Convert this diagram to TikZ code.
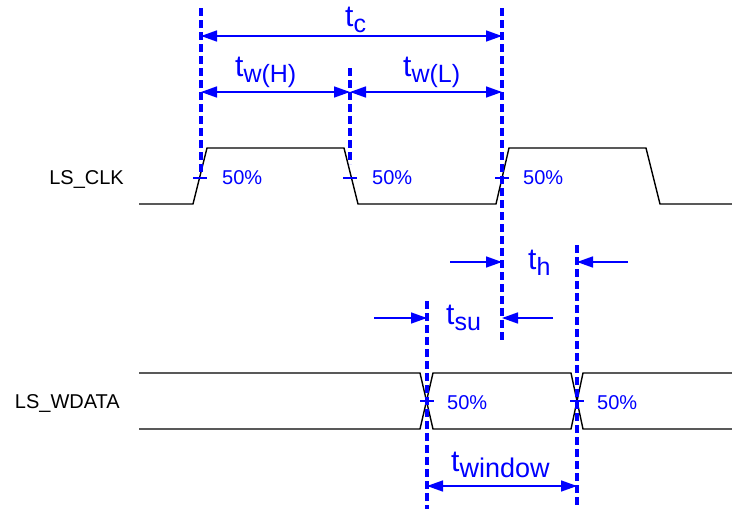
\documentclass[tikz,border=0pt]{standalone}
\usepackage{fontspec}
\setmainfont{Liberation Sans}
\usetikzlibrary{arrows.meta}
\definecolor{dblue}{RGB}{0,0,255}
\newcommand\tlab[2][25]{{\fontsize{30}{30}\selectfont t}\raisebox{-6pt}{\fontsize{#1}{#1}\selectfont #2}}
\tikzset{
  wave/.style={line width=1.4pt, black, line join=miter},
  guide/.style={dblue, line width=3.8pt, dash pattern=on 8pt off 4pt},
  dim/.style={dblue, line width=1.5pt, -{Triangle[length=16pt,width=11pt]}},
  dimboth/.style={dblue, line width=1.5pt, {Triangle[length=16pt,width=11pt]}-{Triangle[length=16pt,width=11pt]}},
  tick/.style={dblue, line width=1.2pt},
  pct/.style={text=dblue, font=\fontsize{20}{20}\selectfont, inner sep=0pt, anchor=base west},
  sig/.style={font=\fontsize{20}{20}\selectfont, inner sep=0pt, anchor=base east},
  tl/.style={text=dblue, inner sep=0pt, anchor=base west}
}
\begin{document}
\begin{tikzpicture}[x=1pt,y=-1pt]
\path[use as bounding box] (0,0) rectangle (732,509);
% signal names
\node[sig] (clk) at (124,184) {LS\_CLK};
\node[sig] (wdata) at (120,408) {LS\_WDATA};
% clock waveform
\draw[wave] (139,204) -- (193,204) -- (207,148) -- (344,148) -- (358,204) -- (496,204) -- (509,148) -- (646,148) -- (660,204) -- (732,204);
% data waveform
\draw[wave] (139,373) -- (420,373) -- (433,429) -- (571,429) -- (583,373) -- (732,373);
\draw[wave] (139,429) -- (420,429) -- (433,373) -- (571,373) -- (583,429) -- (732,429);
% guide lines
\coordinate (g1t) at (201,8);   \coordinate (g1b) at (201,173);
\coordinate (g2t) at (350,68);  \coordinate (g2b) at (350,164);
\coordinate (g3t) at (502,8);   \coordinate (g3b) at (502,340);
\coordinate (g4t) at (577,245); \coordinate (g4b) at (577,509);
\coordinate (g5t) at (427,301); \coordinate (g5b) at (427,509);
\draw[guide] (g1t) -- (g1b);
\draw[guide] (g2t) -- (g2b);
\draw[guide] (g3t) -- (g3b);
\draw[guide] (g4t) -- (g4b);
\draw[guide] (g5t) -- (g5b);
% 50% ticks
\draw[tick] (193,178) -- (207,178);
\draw[tick] (343,178) -- (357,178);
\draw[tick] (495,178) -- (509,178);
\draw[tick] (420,401) -- (434,401);
\draw[tick] (570,401) -- (584,401);
\node[pct] (p1) at (222,184) {50\%};
\node[pct] (p2) at (372,184) {50\%};
\node[pct] (p3) at (523,184) {50\%};
\node[pct] (p4) at (447,409) {50\%};
\node[pct] (p5) at (597,409) {50\%};
% dimensions
\coordinate (tcA) at (201,36); \coordinate (tcB) at (502,36);
\draw[dimboth] (tcA) -- (tcB);
\node[tl] (tc) at (345,26) {\tlab{c}};
\coordinate (twA) at (201,92); \coordinate (twM) at (350,92); \coordinate (twB) at (502,92);
\draw[dimboth] (twA) -- (twM);
\draw[dimboth] (twM) -- (twB);
\node[tl] (twh) at (235,76) {\tlab{w(H)}};
\node[tl] (twl) at (403,76) {\tlab{w(L)}};
% hold
\coordinate (thA) at (450,262); \coordinate (thB) at (502,262);
\coordinate (thC) at (628,262); \coordinate (thD) at (577,262);
\draw[dim] (thA) -- (thB);
\draw[dim] (thC) -- (thD);
\node[tl] (th) at (528,269) {\tlab{h}};
% setup
\coordinate (tsA) at (374,318); \coordinate (tsB) at (427,318);
\coordinate (tsC) at (553,318); \coordinate (tsD) at (502,318);
\draw[dim] (tsA) -- (tsB);
\draw[dim] (tsC) -- (tsD);
\node[tl] (tsu) at (446,324) {\tlab{su}};
% window
\coordinate (twiA) at (427,486); \coordinate (twiB) at (577,486);
\draw[dimboth] (twiA) -- (twiB);
\node[tl] (twin) at (451,471) {\tlab[27]{window}};
\end{tikzpicture}
\end{document}
